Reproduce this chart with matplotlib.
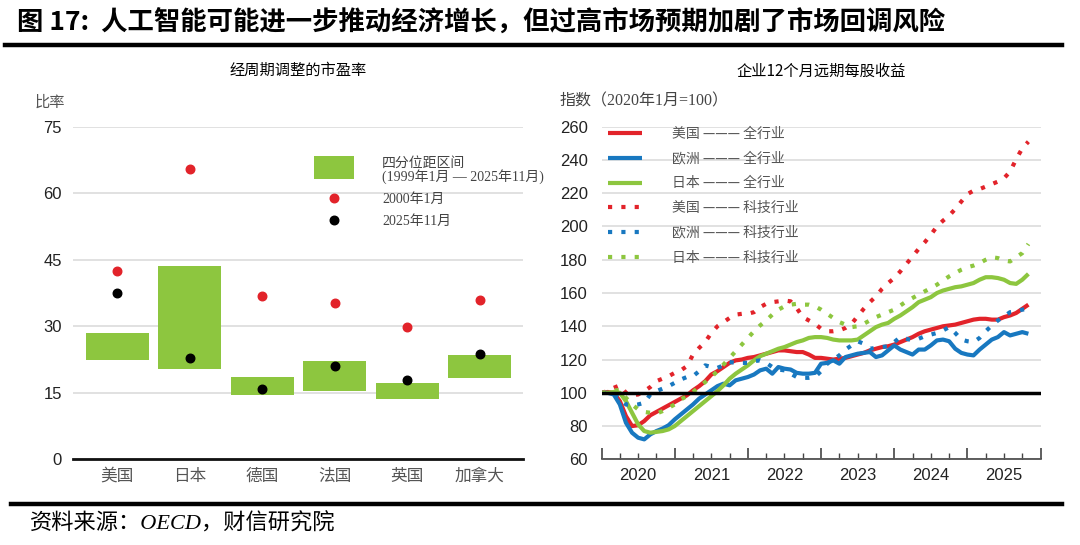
import numpy as np
import pandas as pd
import matplotlib
matplotlib.use('Agg')
import matplotlib.pyplot as plt
import matplotlib.patches as mpatches
from matplotlib.lines import Line2D
from matplotlib.legend_handler import HandlerPatch

plt.rcParams['font.family'] = ['Liberation Sans', 'Noto Sans CJK SC', 'DejaVu Sans']
SERIF = ['Liberation Serif', 'Noto Sans CJK SC', 'DejaVu Sans']
CJK = ['Noto Sans CJK SC', 'DejaVu Sans']

RED = '#E2232A'
BLUE = '#1878C0'
GREEN = '#8DC63F'

#========================= Left panel data ====================================
countries = ['美国', '日本', '德国', '法国', '英国', '加拿大']
iqr_low = [22.5, 20.3, 14.5, 15.3, 13.7, 18.3]
iqr_high = [28.5, 43.5, 18.5, 22.2, 17.2, 23.6]
pe_2000 = [42.4, 65.4, 36.8, 35.3, 29.8, 35.9]
pe_2025 = [37.6, 22.9, 15.8, 21.1, 17.9, 23.8]

#========================= Right panel data ===================================
# monthly, Jan 2020 - Nov 2025, index Jan 2020 = 100
us_all = [100, 100.5, 100, 95, 86, 80, 80.5, 83, 86.5, 88.5, 90.5, 92.5,
          94.5, 96.5, 98.5, 101.5, 104, 107, 111, 113, 115.5, 118, 119.5, 120,
          121, 121.5, 122.5, 123.5, 124.5, 125.5, 125.5, 125, 124.5, 124.5, 123, 121,
          121, 120.5, 120, 120.5, 121, 122, 123, 124, 125.5, 126.5, 127.5, 128,
          129, 130.5, 132, 133.5, 135.5, 137, 138, 139, 140, 140.5, 141, 142,
          143, 144, 144.5, 144.5, 144, 144, 145.5, 146.5, 148, 150.5, 153]
eu_all = [100, 100, 99, 93, 82, 76, 73, 72, 75, 77, 78.5, 80.5,
          84, 87, 90, 93, 96.5, 99, 101.5, 104, 105.5, 104.5, 107.5, 108.5,
          109.5, 111, 113.5, 114.5, 111.5, 115.5, 114.5, 114, 112, 111.5, 111.5, 112,
          117.5, 118, 119.5, 117.5, 121.5, 122.5, 123.5, 124, 124.5, 121.5, 122.5, 125.5,
          128.5, 126, 124.5, 123, 126, 126, 128.5, 131.5, 132, 131, 126.5, 124,
          123, 122.5, 126, 129, 132, 133.5, 136.5, 134.5, 135.5, 136.5, 135.5]
jp_all = [100, 100, 100.5, 100, 95, 88, 81, 77, 76, 76.5, 77, 78,
          80, 83, 86, 89, 92, 95, 98, 101, 104.5, 108.5, 111.5, 114,
          116.5, 119.5, 122, 123.5, 125, 126.5, 127.5, 129, 130.5, 131.5, 133, 133.5,
          133.5, 133, 132, 131.5, 131.5, 131.5, 132, 134.5, 137, 139.5, 141, 142,
          144.5, 146.5, 149, 151.5, 154.5, 156, 157.5, 160, 161.5, 162.5, 163.5, 164,
          165, 166, 168, 169.5, 169.5, 169, 168, 166, 165.5, 168, 171.5]
us_tech = [100, 101, 103, 104.5, 100, 98.5, 99, 101, 103.5, 107, 108.5, 110,
           112, 113.5, 116, 123, 127, 130.5, 136, 140, 142.5, 145, 147, 147.5,
           147.5, 148.5, 151.5, 153.5, 154.5, 155, 155.5, 155, 151, 145.5, 143.5, 141.5,
           138.5, 137, 137, 137.5, 139, 141.5, 146, 150.5, 154.5, 158, 162.5, 166,
           169, 173, 177.5, 182, 186.5, 190.5, 195, 200, 203.5, 206.5, 210.5, 215,
           219.5, 221.5, 222.5, 224, 225.5, 227, 229, 233, 240.5, 247, 251]
eu_tech = [100, 100, 99.5, 97, 93, 92.5, 93, 94, 99, 101, 102.5, 104,
           106, 108, 109.5, 110, 113, 116.5, 115.5, 115, 116.5, 118.5, 118, 118,
           118, 119, 119.5, 118, 115.5, 114, 113.5, 111.5, 109.5, 109, 109, 109.5,
           113, 117.5, 120, 122.5, 126, 128.5, 131, 129.5, 126.5, 127, 127.5, 128,
           130.5, 133.5, 132.5, 131.5, 132.5, 134, 135, 136, 137.5, 139.5, 136, 132,
           131, 130.5, 133, 137, 140.5, 143.5, 146, 148.5, 149, 150, 150.5]
jp_tech = [100, 100.5, 101.5, 101.5, 97, 93, 90, 88.5, 88, 87.5, 89, 91,
           93, 96, 98, 100.5, 103.5, 106.5, 109.5, 113, 117, 121, 125, 129,
           133, 137, 140.5, 143.5, 147, 150, 152, 153, 153.5, 153, 153, 152,
           150, 147.5, 145, 142.5, 141, 139.5, 140, 141.5, 143.5, 145.5, 147, 148.5,
           150, 152.5, 155, 157, 159, 161, 163, 165, 167.5, 170, 172, 174,
           175.5, 176.5, 178, 180, 181.5, 181, 179.5, 179, 181.5, 184, 189.5]
years = ['2020', '2021', '2022', '2023', '2024', '2025']

dates = pd.date_range('2020-01-01', periods=len(us_all), freq='MS')
tx = dates.year + (dates.month - 1) / 12.0

#========================= Figure =============================================
fig = plt.figure(figsize=(10.8, 5.45), dpi=100)

fig.text(0.016, 0.958, '图 17:  人工智能可能进一步推动经济增长，但过高市场预期加剧了市场回调风险',
         fontsize=19, fontweight='bold', family=CJK, va='center', ha='left')
fig.add_artist(Line2D([0.005, 0.983], [0.917, 0.917], color='black', lw=3.2))
fig.add_artist(Line2D([0.01, 0.983], [0.076, 0.076], color='black', lw=3.2))
fig.text(0.028, 0.038, '资料来源：OECD，财信研究院', fontsize=16, family=SERIF,
         style='italic', va='center', ha='left')

#========================= Left panel =========================================
ax1 = fig.add_axes([0.0676, 0.1572, 0.4167, 0.6103])
x = np.arange(len(countries))
heights = np.array(iqr_high) - np.array(iqr_low)
bars = ax1.bar(x, heights, bottom=iqr_low, width=0.87, color=GREEN, zorder=2)
sc_red = ax1.scatter(x, pe_2000, s=38, color=RED, zorder=3)
sc_blk = ax1.scatter(x, pe_2025, s=38, color='black', zorder=3)
ax1.set_xlim(-0.61, 5.6)
ax1.set_ylim(0, 75)
ax1.set_yticks([0, 15, 30, 45, 60, 75])
ax1.yaxis.grid(True, color='#dcdcdc', lw=1.2, zorder=0)
ax1.set_axisbelow(True)
for s in ['top', 'right', 'left']:
    ax1.spines[s].set_visible(False)
ax1.spines['bottom'].set_linewidth(2)
ax1.spines['bottom'].set_color('#111111')
ax1.tick_params(axis='both', length=0)
ax1.tick_params(axis='y', labelsize=12, colors='#222222', pad=8)
ax1.set_xticks(x)
ax1.set_xticklabels(countries, fontsize=12, color='#555555', family=CJK)
ax1.tick_params(axis='x', pad=6)
ax1.text(-0.085, 1.075, '比率', transform=ax1.transAxes, fontsize=11,
         color='#555555', family=CJK, va='center', ha='left')
ax1.set_title('经周期调整的市盈率', fontsize=11, family=CJK, pad=37)


def big_rect(legend, orig_handle, xdescent, ydescent, width, height, fontsize):
    return mpatches.Rectangle((-xdescent, -ydescent - 0.1 * height), width, 1.7 * height)


leg1 = ax1.legend([bars[0], sc_red, sc_blk],
                  ['四分位距区间\n(1999年1月 — 2025年11月)', '2000年1月', '2025年11月'],
                  loc='upper left', bbox_to_anchor=(0.52, 0.93), frameon=False,
                  prop={'family': SERIF, 'size': 10}, labelcolor='#444444',
                  handlelength=2.9, handleheight=1.1, handletextpad=2.0,
                  labelspacing=0.55, borderpad=0, scatterpoints=1,
                  handler_map={mpatches.Rectangle: HandlerPatch(patch_func=big_rect)})
for t in leg1.get_texts():
    t.set_linespacing(0.95)

#========================= Right panel ========================================
ax2 = fig.add_axes([0.557, 0.1572, 0.4065, 0.6103])
solid = [(us_all, RED, '美国 ——— 全行业'), (eu_all, BLUE, '欧洲 ——— 全行业'),
         (jp_all, GREEN, '日本 ——— 全行业')]
dotted = [(us_tech, RED, '美国 ——— 科技行业'), (eu_tech, BLUE, '欧洲 ——— 科技行业'),
          (jp_tech, GREEN, '日本 ——— 科技行业')]
for vals, c, lab in solid:
    ax2.plot(tx, vals, color=c, lw=3, label=lab, zorder=3, solid_capstyle='butt')
for vals, c, lab in dotted:
    ax2.plot(tx, vals, color=c, lw=3, ls=(0, (1, 2.2)), label=lab, zorder=4,
             dash_capstyle='butt')
ax2.axhline(100, color='black', lw=2.5, zorder=5)
ax2.set_xlim(2020, 2026)
ax2.set_ylim(60, 260)
ax2.set_yticks(np.arange(60, 261, 20))
ax2.yaxis.grid(True, color='#dcdcdc', lw=1.2, zorder=0)
ax2.set_axisbelow(True)
for s in ['top', 'right', 'left']:
    ax2.spines[s].set_visible(False)
ax2.spines['bottom'].set_color('#444444')
ax2.spines['bottom'].set_linewidth(1.2)
ax2.tick_params(axis='y', length=0, labelsize=12, colors='#222222', pad=10)
ax2.set_xticks(np.arange(2020, 2027, 1))
ax2.set_xticks(np.arange(2020, 2026.01, 0.25), minor=True)
ax2.set_xticklabels([])
ax2.tick_params(axis='x', which='major', direction='in', length=8, width=1.2, color='#444444')
ax2.tick_params(axis='x', which='minor', direction='in', length=4, width=1, color='#444444')
for i, yl in enumerate(years):
    ax2.text(2020.5 + i, -0.025, yl, transform=ax2.get_xaxis_transform(),
             ha='center', va='top', fontsize=12, color='#222222')
ax2.text(-0.095, 1.075, '指数（2020年1月=100）', transform=ax2.transAxes, fontsize=11.5,
         color='#444444', family=SERIF, va='center', ha='left')
ax2.set_title('企业12个月远期每股收益', fontsize=11, family=CJK, pad=37)
ax2.legend(loc='upper left', bbox_to_anchor=(-0.002, 1.02), frameon=False,
           prop={'family': CJK, 'size': 10}, labelcolor='#555555',
           handlelength=2.5, handletextpad=2.1, labelspacing=0.77, borderpad=0)

fig.savefig('out.png', dpi=100)
